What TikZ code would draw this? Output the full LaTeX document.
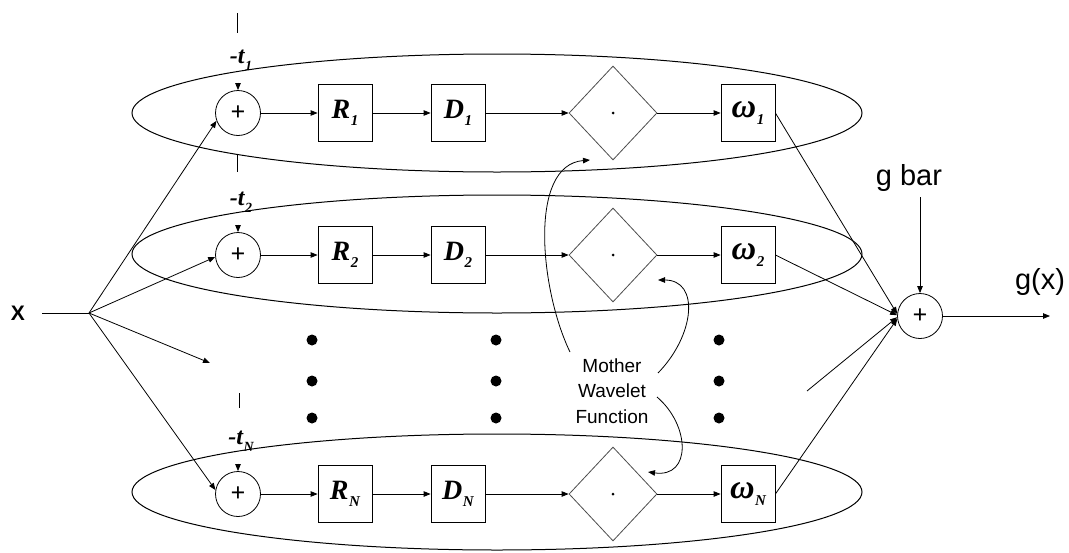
\documentclass[tikz,border=0pt]{standalone}
\usepackage{fontspec}
\setmainfont{Liberation Serif}
\newfontfamily\labelsans{Liberation Sans}
\usetikzlibrary{arrows.meta,shapes.geometric}

% bold italic block label with a lowered index
\newcommand{\blocklbl}[4]{{\fontsize{#3}{#3}\selectfont\bfseries\itshape #1}\kern0.5pt\raisebox{-7pt}{\fontsize{#4}{#4}\selectfont\bfseries\itshape #2}}

\begin{document}
\begin{tikzpicture}[x=1pt,y=-1pt,
  line width=0.8pt,
  arr/.style={-{Triangle[length=7pt,width=5.5pt]}},
  sumnode/.style={circle,draw,minimum size=45pt,inner sep=0pt},
  plussign/.style={font=\bfseries\fontsize{26}{26}\selectfont,inner sep=0pt},
  blockbox/.style={draw,minimum width=54pt,minimum height=57pt,inner sep=0pt},
  prodnode/.style={diamond,draw=black!70,minimum width=88pt,minimum height=94pt,inner sep=0pt},
  layer/.style={draw,line width=1pt},
  tick/.style={line width=0.8pt},
  dot/.style={fill,circle,inner sep=0pt,minimum size=11pt},
  sanslbl/.style={font=\labelsans\fontsize{29}{29}\selectfont}
]
\useasboundingbox (0,0) rectangle (1069,552);

% grouping ellipses, one per hidden unit
\draw[layer] (497,113) ellipse [x radius=365, y radius=59];
\draw[layer] (497,254) ellipse [x radius=365, y radius=59];
\draw[layer] (497,492) ellipse [x radius=365, y radius=58];

% input
\node[font=\labelsans\bfseries\fontsize{21}{21}\selectfont] (xin) at (18,313) {X};
\coordinate (xstart) at (42,313);
\coordinate (branch) at (89,313);
\coordinate (midin) at (210,363);

% unit rows
\foreach \r/\y/\idx in {1/113/1, 2/255/2, N/494/N}{
  \node[sumnode] (s\r) at (238,\y) {};
  \node[plussign] (ps\r) at (238,\y) {+};
  \node[blockbox] (R\r) at (345,\y) {\blocklbl{R}{\idx}{28}{15}};
  \node[blockbox] (D\r) at (458,\y) {\blocklbl{D}{\idx}{28}{15}};
  \node[prodnode] (p\r) at (613,\y) {};
  \node[dot,minimum size=3pt] (pc\r) at (613,\y) {};
  \node[blockbox] (w\r) at (748,\y) {\blocklbl{ω}{\idx}{34}{15}};
  \draw[arr] (s\r.east) -- (R\r.west);
  \draw[arr] (R\r.east) -- (D\r.west);
  \draw[arr] (D\r.east) -- (p\r.west);
  \draw[arr] (p\r.east) -- (w\r.west);
}

% translation inputs
\node (t1) at (241,60) {\blocklbl{-t}{1}{24}{14}};
\node (t2) at (241,202) {\blocklbl{-t}{2}{24}{14}};
\node (tN) at (241,441) {\blocklbl{-t}{N}{24}{14}};
\coordinate (k1a) at (237,13);  \coordinate (k1b) at (237,33);
\coordinate (k2a) at (237,155); \coordinate (k2b) at (237,172);
\coordinate (kNa) at (239,393); \coordinate (kNb) at (239,408);
\draw[tick] (k1a) -- (k1b);
\draw[tick] (k2a) -- (k2b);
\draw[tick] (kNa) -- (kNb);
\draw[arr] ([yshift=7.5pt]s1.north) -- (s1.north);
\draw[arr] ([yshift=7.5pt]s2.north) -- (s2.north);
\draw[arr] ([yshift=7.5pt]sN.north) -- (sN.north);

% input fan-out
\draw (xstart) -- (branch);
\draw[arr] (branch) -- (s1.200);
\draw[arr] (branch) -- (s2.185);
\draw[arr] (branch) -- (midin);
\draw[arr] (branch) -- (sN.170);

% elided rows
\foreach \xx in {312,496,719}{
  \foreach \yy in {340,381,418}{
    \node[dot] at (\xx,\yy) {};
  }
}

% output summation
\node[sumnode] (out) at (920,316) {};
\node[plussign] (pout) at (920,316) {+};
\node[sanslbl] (gbar) at (909,178) {g bar};
\node[sanslbl] (gx) at (1040,282) {g(x)};
\coordinate (gbarend) at (920,197);
\coordinate (gxend) at (1050,316);
\coordinate (midout) at (807,391);
\draw[arr] (gbarend) -- (out.north);
\draw[arr] (out.east) -- (gxend);
\draw[arr] (w1.east) -- (out.175);
\draw[arr] (w2.east) -- (out.178);
\draw[arr] (midout) -- (out.183);
\draw[arr] (wN.east) -- (out.187);

% mother wavelet annotation
\node[font=\labelsans\fontsize{19}{25.5}\selectfont,align=center] (mw) at (612,391) {Mother\\Wavelet\\Function};
\coordinate (m1) at (570,352);
\coordinate (m1e) at (590,160);
\coordinate (m2) at (658,373);
\coordinate (m2e) at (658,280);
\coordinate (m3) at (657,397);
\coordinate (m3e) at (648,472);
\draw[arr] (m1) .. controls (540,290) and (528,165) .. (m1e);
\draw[arr] (m2) .. controls (695,335) and (700,280) .. (m2e);
\draw[arr] (m3) .. controls (690,425) and (692,478) .. (m3e);
\end{tikzpicture}
\end{document}
